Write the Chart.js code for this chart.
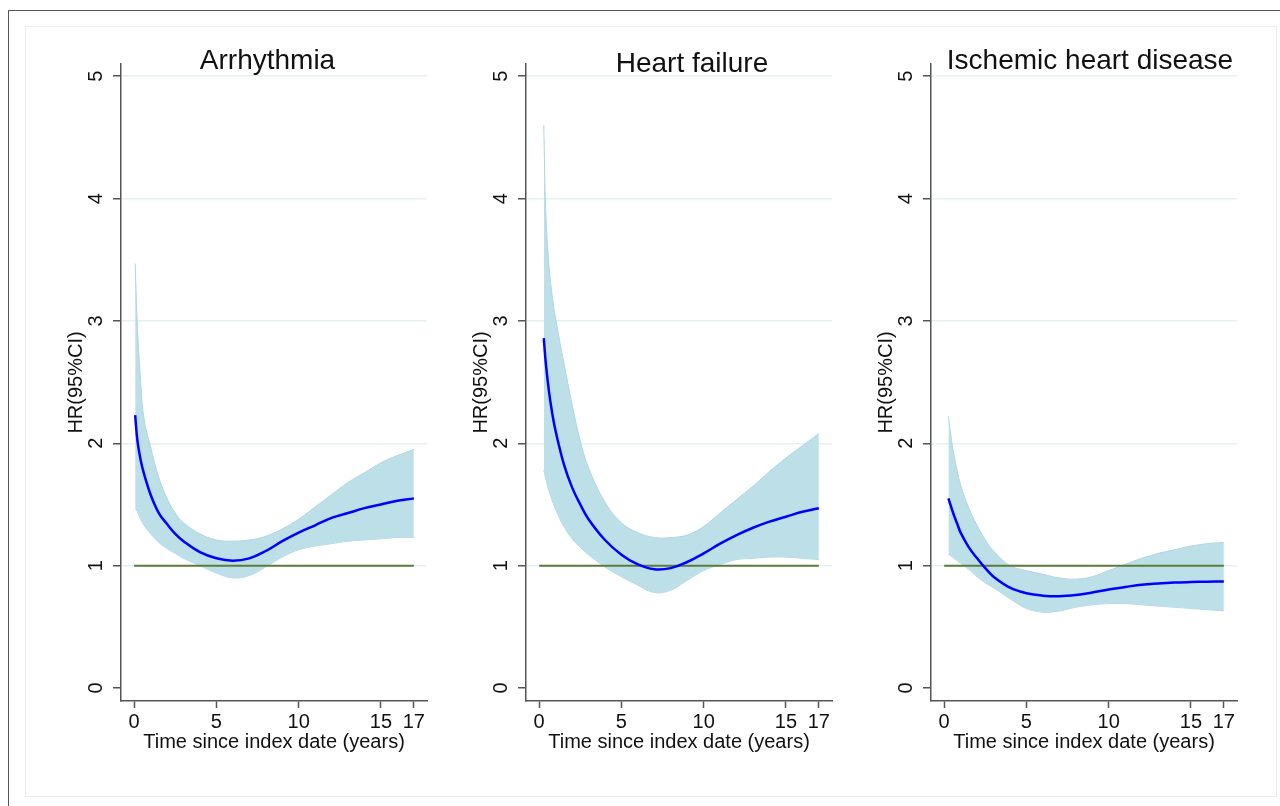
<!DOCTYPE html>
<html>
<head>
<meta charset="utf-8">
<title>HR según tiempo desde la fecha índice</title>
<script src="https://cdn.jsdelivr.net/npm/chart.js@4/dist/chart.umd.min.js"></script>
<style>
  body { margin: 0; background: #fff; }
  #lienzo { position: relative; width: 1280px; height: 806px; overflow: hidden; }
  #marco { position: absolute; left: 8px; top: 10px; right: -10px; bottom: -10px; border-top: 1.5px solid #555; border-left: 1.5px solid #555; }
  #marcoInterior { position: absolute; left: 25px; top: 26px; width: 1250px; height: 769px; border: 1px solid #e8eef0; }
  canvas { position: absolute; top: 0; }
</style>
</head>
<body>
<div id="lienzo">
  <div id="marco"></div>
  <div id="marcoInterior"></div>
  <canvas id="chartArritmia" width="400" height="806" style="left:30px"></canvas>
  <canvas id="chartInsuficiencia" width="400" height="806" style="left:435px"></canvas>
  <canvas id="chartIsquemica" width="400" height="806" style="left:840px"></canvas>
</div>

<script>
// Marcas de los ejes
const TICKS_X = [0, 5, 10, 15, 17];
const TICKS_Y = [0, 1, 2, 3, 4, 5];
const TIEMPO_REFERENCIA = [0, 17];
const HR_REFERENCIA = [1, 1];

// Arritmia
const tiempoArritmia = [0.06, 0.2, 0.4, 0.6, 1, 1.5, 2, 2.5, 3, 4, 5, 6, 7, 8, 9, 10, 11, 12, 13, 14, 15, 16, 17];
const hrArritmia  = [2.23, 2.02, 1.86, 1.75, 1.58, 1.43, 1.34, 1.26, 1.20, 1.11, 1.06, 1.04, 1.06, 1.12, 1.20, 1.27, 1.33, 1.39, 1.43, 1.47, 1.50, 1.53, 1.55];
const supArritmia = [3.47, 2.95, 2.50, 2.20, 1.97, 1.72, 1.55, 1.43, 1.35, 1.26, 1.21, 1.20, 1.21, 1.24, 1.30, 1.38, 1.48, 1.58, 1.68, 1.76, 1.84, 1.90, 1.95];
const infArritmia = [1.47, 1.44, 1.38, 1.33, 1.26, 1.19, 1.14, 1.10, 1.06, 1.00, 0.94, 0.90, 0.92, 0.99, 1.07, 1.13, 1.16, 1.18, 1.20, 1.21, 1.22, 1.23, 1.23];

// Insuficiencia cardiaca
const tiempoInsuf = [0.28, 0.4, 0.6, 0.8, 1, 1.5, 2, 2.5, 3, 4, 5, 6, 7, 8, 9, 10, 11, 12, 13, 14, 15, 16, 17];
const hrInsuf  = [2.86, 2.66, 2.42, 2.24, 2.10, 1.83, 1.64, 1.50, 1.38, 1.21, 1.09, 1.01, 0.97, 0.98, 1.03, 1.10, 1.18, 1.25, 1.31, 1.36, 1.40, 1.44, 1.47];
const supInsuf = [4.60, 3.90, 3.45, 3.20, 3.02, 2.66, 2.32, 2.02, 1.80, 1.52, 1.35, 1.27, 1.23, 1.23, 1.25, 1.32, 1.43, 1.54, 1.65, 1.77, 1.88, 1.98, 2.08];
const infInsuf = [1.78, 1.71, 1.61, 1.53, 1.46, 1.32, 1.22, 1.15, 1.09, 0.99, 0.91, 0.84, 0.78, 0.80, 0.88, 0.96, 1.01, 1.05, 1.06, 1.07, 1.07, 1.06, 1.05];

// Cardiopatía isquémica
const tiempoIsq = [0.26, 0.4, 0.6, 0.8, 1, 1.5, 2, 2.5, 3, 4, 5, 6, 7, 8, 9, 10, 11, 12, 13, 14, 15, 16, 17];
const hrIsq  = [1.55, 1.49, 1.41, 1.34, 1.27, 1.15, 1.06, 0.98, 0.91, 0.82, 0.775, 0.755, 0.75, 0.76, 0.78, 0.805, 0.825, 0.845, 0.855, 0.862, 0.866, 0.869, 0.87];
const supIsq = [2.22, 2.07, 1.90, 1.77, 1.66, 1.47, 1.33, 1.21, 1.12, 1.00, 0.96, 0.93, 0.90, 0.89, 0.91, 0.96, 1.01, 1.06, 1.10, 1.13, 1.16, 1.18, 1.19];
const infIsq = [1.09, 1.08, 1.06, 1.04, 1.02, 0.97, 0.91, 0.86, 0.82, 0.73, 0.65, 0.62, 0.63, 0.66, 0.68, 0.69, 0.69, 0.68, 0.67, 0.66, 0.65, 0.64, 0.63];

const FUENTE = '"Liberation Sans", Arial, sans-serif';
const COLOR_TEXTO = '#111';
const COLOR_EJE = '#555';

Chart.defaults.font.family = FUENTE;
Chart.defaults.color = COLOR_TEXTO;

function puntos(xs, ys) {
  return xs.map((x, i) => ({ x: x, y: ys[i] }));
}

// Título del panel y etiquetas del eje Y giradas (estilo Stata)
function pluginTextos(titulo, desplazamiento, base) {
  return {
    id: 'textosPanel',
    afterDraw(chart) {
      const ctx = chart.ctx;
      const area = chart.chartArea;
      const escalaY = chart.scales.y;
      ctx.save();
      ctx.fillStyle = COLOR_TEXTO;
      ctx.font = '28px ' + FUENTE;
      ctx.textAlign = 'center';
      ctx.textBaseline = 'alphabetic';
      ctx.fillText(titulo, (area.left + area.right) / 2 + desplazamiento, base);

      ctx.font = '20px ' + FUENTE;
      ctx.textBaseline = 'middle';
      escalaY.ticks.forEach(t => {
        ctx.save();
        ctx.translate(area.left - 25, escalaY.getPixelForValue(t.value));
        ctx.rotate(-Math.PI / 2);
        ctx.fillText(String(t.value), 0, 0);
        ctx.restore();
      });
      ctx.restore();
    }
  };
}

function crearPanel(idCanvas, titulo, tiempos, hr, sup, inf, desplazamiento, base) {
  const ctx = document.getElementById(idCanvas).getContext('2d');
  return new Chart(ctx, {
    type: 'line',
    data: {
      datasets: [
        {
          data: puntos(tiempos, hr),
          borderColor: '#0000ff',
          borderWidth: 2.5,
          pointRadius: 0,
          fill: false,
          tension: 0.4
        },
        {
          data: puntos(TIEMPO_REFERENCIA, HR_REFERENCIA),
          borderColor: '#5b7b3b',
          borderWidth: 2,
          pointRadius: 0,
          fill: false
        },
        {
          data: puntos(tiempos, sup),
          borderColor: '#aed6e2',
          borderWidth: 1,
          backgroundColor: '#bddfe8',
          pointRadius: 0,
          fill: '+1',
          tension: 0.4
        },
        {
          data: puntos(tiempos, inf),
          borderColor: '#aed6e2',
          borderWidth: 1,
          pointRadius: 0,
          fill: false,
          tension: 0.4
        }
      ]
    },
    options: {
      responsive: false,
      animation: false,
      events: [],
      layout: { padding: { left: 31, right: 3, top: 64, bottom: 45 } },
      plugins: {
        legend: { display: false },
        tooltip: { enabled: false }
      },
      scales: {
        x: {
          type: 'linear',
          min: -0.8,
          max: 17.8,
          afterBuildTicks: s => { s.ticks = TICKS_X.map(v => ({ value: v })); },
          afterFit: s => { s.height = 60; },
          border: { display: true, color: COLOR_EJE, width: 1.5 },
          grid: { drawOnChartArea: false, drawTicks: true, tickLength: 7, tickColor: COLOR_EJE, tickWidth: 1.5 },
          ticks: { font: { size: 20 }, color: COLOR_TEXTO, padding: 2, maxRotation: 0, autoSkip: false },
          title: {
            display: true,
            text: 'Time since index date (years)',
            font: { size: 20 },
            color: COLOR_TEXTO,
            padding: { top: 0, bottom: 7 }
          }
        },
        y: {
          min: -0.106,
          max: 5.1,
          afterBuildTicks: s => { s.ticks = TICKS_Y.map(v => ({ value: v })); },
          afterFit: s => { s.width = 60; },
          border: { display: true, color: COLOR_EJE, width: 1.5 },
          grid: {
            color: c => (c.tick && c.tick.value === 0) ? 'rgba(0,0,0,0)' : '#e6eff1',
            lineWidth: 1.5,
            tickLength: 8,
            tickColor: COLOR_EJE,
            tickWidth: 1.5
          },
          ticks: { display: false },
          title: {
            display: true,
            text: 'HR(95%CI)',
            font: { size: 20 },
            color: COLOR_TEXTO,
            padding: { top: 3, bottom: 0 }
          }
        }
      }
    },
    plugins: [pluginTextos(titulo, desplazamiento, base)]
  });
}

crearPanel('chartArritmia', 'Arrhythmia', tiempoArritmia, hrArritmia, supArritmia, infArritmia, -6.5, 69);
crearPanel('chartInsuficiencia', 'Heart failure', tiempoInsuf, hrInsuf, supInsuf, infInsuf, 13, 71.5);
crearPanel('chartIsquemica', 'Ischemic heart disease', tiempoIsq, hrIsq, supIsq, infIsq, 6, 69);
</script>
</body>
</html>
